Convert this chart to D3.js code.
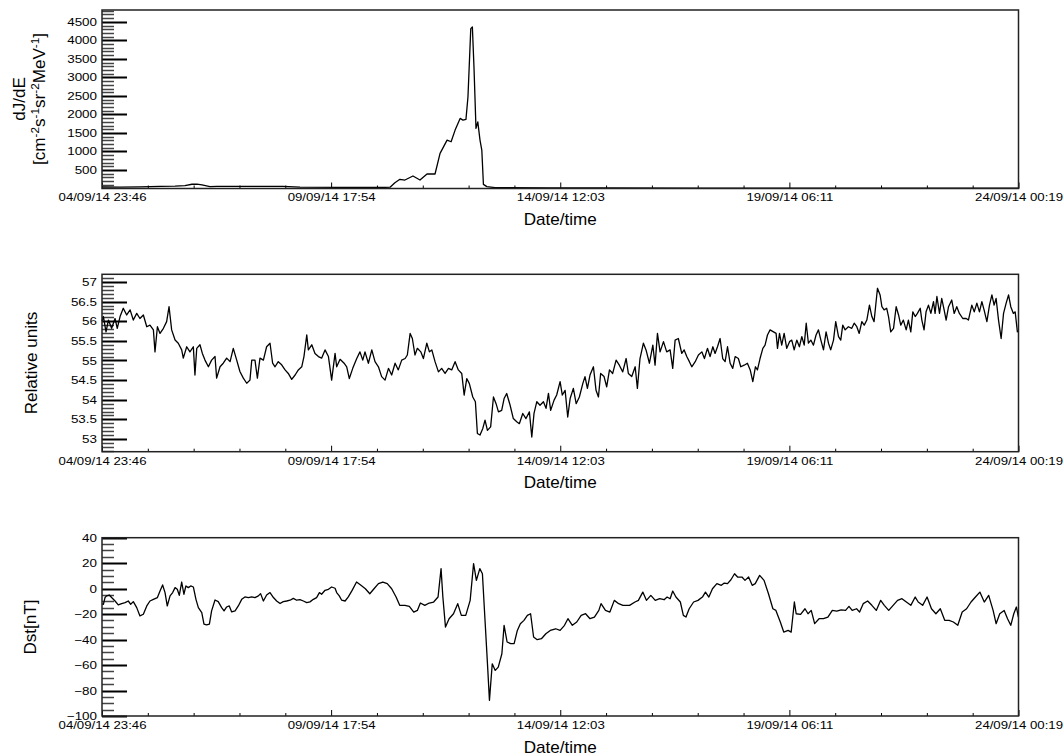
<!DOCTYPE html>
<html lang="en">
<head>
<meta charset="UTF-8">
<title>Proton flux, relative units and Dst, September 2014</title>
<script src="https://d3js.org/d3.v7.min.js"></script>
<style>
  body { margin: 0; background: #fff; }
  svg { display: block; }
  text { font-family: "Liberation Sans", Arial, Helvetica, sans-serif; fill: #000; }
  .tick line { stroke: #000; stroke-width: 1px; }
  .line { fill: none; stroke: #000; stroke-width: 1.3px; stroke-linejoin: round; }
  .frame { fill: none; stroke: #222; stroke-width: 1.5px; }
  .tick-label { font-size: 11px; }
  .title { font-size: 16px; }
</style>
</head>
<body>
<svg width="1064" height="756"></svg>
<script>
// time axis: hours since 04/09/14 23:46
const xEnd = 456.55;
const xMajorTicks = [0, 114.13, 228.28, 342.42, 456.55];
const xTickLabels = ["04/09/14 23:46", "09/09/14 17:54", "14/09/14 12:03", "19/09/14 06:11", "24/09/14 00:19"];

// dJ/dE flux
const fluxTimes = [0, 9, 18.9, 28.9, 36.4, 41.3, 44.8, 47.3, 49.8, 53.8, 57.3, 68.7, 90.2, 98.6, 118.6, 141.0,
  143.5, 145.9, 148.4, 150.9, 154.9, 158.4, 161.9, 165.9, 168.4, 171.9, 173.9, 175.9, 178.4, 179.8, 181.3,
  182.3, 183.7, 184.5, 185.3, 186.3, 187.2, 188.3, 189.2, 190.0, 191.7, 195.8, 223.2, 248.1, 297.9, 347.7,
  397.6, 456.4];
const fluxValues = [40, 35, 45, 60, 65, 80, 115, 120, 95, 50, 60, 60, 55, 35, 30, 30,
  35, 157, 248, 229, 337, 229, 391, 391, 948, 1307, 1262, 1577, 1892, 1847, 1865,
  2470, 4317, 4362, 3283, 1622, 1801, 1307, 1038, 112, 50, 25, 18, 15, 12, 10,
  10, 10];

// relative units
const nmTimes = [0, 0.7, 2.0, 3.2, 4.8, 6.5, 7.6, 9.0, 10.6, 12.3, 14.0, 15.6, 17.3, 18.9, 20.6, 22.3, 23.9,
  25.6, 26.4, 27.6, 28.9, 30.6, 32.2, 33.4, 34.7, 36.4, 38.0, 39.7, 40.5, 42.2, 43.8, 45.5, 46.3, 47.2,
  48.8, 50.0, 51.3, 53.0, 54.6, 56.3, 57.1, 58.8, 60.4, 62.1, 63.8, 65.4, 67.1, 68.7, 70.4, 72.1, 73.7,
  74.6, 76.2, 77.4, 78.7, 80.4, 82.0, 83.7, 85.0, 86.2, 87.8, 89.5, 91.2, 92.8, 94.5, 96.2, 97.8, 99.5,
  100.6, 102.0, 102.8, 104.5, 106.1, 107.8, 109.4, 111.1, 112.8, 114.4, 116.1,
  116.9, 118.6, 120.6, 121.9, 123.2, 124.9, 126.9, 128.5, 129.9, 131.0, 132.7, 134.4, 136.0, 137.7, 139.3,
  141.0, 142.7, 144.3, 146.0, 147.6, 149.3, 151.0, 152.1, 153.5, 154.6, 155.9, 157.1, 158.8, 160.1, 161.8,
  163.1, 164.3, 165.9, 167.6, 169.2, 170.9, 172.6, 174.2, 175.9, 177.5, 179.2, 180.4, 181.7, 183.0, 184.7,
  186.0, 187.0, 188.3, 189.7, 190.8, 192.0, 193.6, 195.0, 196.3, 197.5, 199.1, 200.3, 201.6, 203.3, 204.9,
  206.6, 207.9, 209.6, 211.2, 212.9, 214.1, 215.2, 216.6, 218.2, 219.9, 221.2, 222.4, 223.5, 225.2, 226.5,
  228.2, 229.3, 230.7, 232.0, 233.2, 234.8, 236.2, 237.8, 239.5, 240.6, 241.8, 243.1, 244.8, 246.1, 247.3,
  248.4, 250.1, 251.4, 252.8, 254.4, 256.1, 257.7, 259.4, 261.1, 262.2, 263.9, 265.6, 266.7, 268.0, 269.7,
  271.0, 272.7, 274.4, 275.5, 276.7, 278.0, 279.7, 281.3, 283.0, 284.3, 285.5, 287.1,
  288.8, 290.0, 291.3, 292.6, 293.8, 295.5, 297.1, 298.8, 300.1, 301.6, 302.9, 304.3, 305.4, 306.6, 307.9,
  309.2, 310.4, 311.6, 312.9, 314.2, 315.4, 317.0, 318.2, 319.9, 321.5, 322.9, 324.2, 325.5, 326.5, 327.8,
  329.2, 330.3, 331.5, 332.8, 334.5, 335.8, 336.5, 337.5, 338.6, 339.8, 341.1, 342.5, 343.6, 344.8, 346.1,
  347.4, 348.6, 349.8, 350.8, 351.9, 353.1, 354.4, 355.7, 356.9, 358.1, 359.4, 360.7, 361.9, 363.0, 364.4,
  365.5, 366.9, 368.0, 369.0, 370.2, 371.8, 373.5, 374.7, 376.0, 377.2, 378.5, 379.7, 381.0, 382.3, 383.5,
  384.6, 386.3, 387.6, 388.5, 389.6, 390.9, 391.8, 392.9, 394.3, 395.6, 396.8, 397.9, 399.2, 400.6, 401.7,
  402.9, 403.9, 405.1, 406.2, 407.6, 408.4, 409.5, 410.5, 411.7, 412.9, 414.2, 415.0, 415.9, 417.2, 418.3,
  419.5, 420.5, 421.7, 423.3, 424.5, 425.8, 427.1, 428.8, 430.5, 431.6, 433.3, 434.5, 435.8, 437.1, 438.3,
  439.4, 440.8, 442.1, 443.3, 444.4, 445.4, 446.6, 447.9, 449.1, 450.4, 451.6, 452.7, 454.0, 454.9, 456.0,
  456.5];
const nmValues = [56.0, 56.12, 55.73, 56.03, 55.82, 56.07, 55.82, 56.12, 56.33, 56.16, 56.29, 56.03, 56.20, 56.07, 56.16, 55.86, 55.90,
  55.78, 55.22, 55.86, 55.69, 55.82, 55.99, 56.37, 55.78, 55.52, 55.44, 55.27, 55.06, 55.35, 55.22, 55.35, 54.63, 55.31,
  55.40, 55.18, 55.01, 54.84, 55.01, 55.10, 54.55, 54.84, 54.93, 55.06, 54.97, 55.31, 55.01, 54.72, 54.55, 54.42, 54.50,
  55.01, 55.01, 54.55, 55.06, 55.01, 55.35, 55.44, 54.93, 54.84, 54.97, 54.89, 54.76, 54.67, 54.52, 54.63, 54.76, 54.84,
  55.10, 55.65, 55.27, 55.40, 55.18, 55.10, 55.06, 55.27, 55.10, 54.50, 55.18,
  54.84, 55.03, 54.93, 54.84, 54.54, 54.80, 55.05, 55.22, 55.01, 55.22, 54.93, 55.27, 54.97, 54.84, 54.59,
  54.50, 54.80, 54.63, 54.93, 54.76, 55.01, 55.05, 55.14, 55.69, 55.56, 55.14, 55.31, 55.22, 55.05, 55.44,
  55.22, 55.27, 54.97, 54.71, 54.80, 54.67, 54.80, 54.76, 54.97, 54.76, 54.67, 54.12, 54.54, 54.41, 54.07,
  53.95, 53.14, 53.10, 53.27, 53.48, 53.22, 53.31, 54.07, 53.90, 53.69, 53.73, 54.03, 54.16, 53.86, 53.52,
  53.44, 53.39, 53.65, 53.52, 53.69, 53.05, 53.65, 53.95, 53.86, 53.95, 53.78, 54.16, 53.73, 53.99, 54.12,
  54.46, 54.12, 54.24, 53.56, 54.03, 54.29, 53.90, 54.07, 54.41, 54.59, 54.29, 54.63, 54.84, 54.24, 54.07,
  54.67, 54.59, 54.33, 54.76, 54.67, 55.01, 54.88, 54.71, 55.05, 54.67, 54.59, 54.84, 54.29, 55.05, 55.44,
  55.27, 54.93, 55.39, 54.88, 55.69, 55.22, 55.48, 55.22, 55.27, 54.80, 55.52, 55.56,
  55.18, 55.27, 55.10, 54.97, 54.84, 54.97, 55.14, 55.22, 55.05, 55.31, 55.10, 55.35, 55.18, 55.35, 55.56,
  55.05, 54.97, 55.35, 54.93, 54.80, 55.10, 55.05, 54.84, 54.88, 54.93, 54.76, 54.46, 54.84, 54.76, 55.05,
  55.31, 55.39, 55.65, 55.78, 55.73, 55.69, 55.31, 55.69, 55.39, 55.69, 55.31, 55.48, 55.52, 55.27, 55.52,
  55.35, 55.61, 55.39, 55.95, 55.44, 55.52, 55.39, 55.65, 55.78, 55.52, 55.27, 55.73, 55.44, 55.27, 55.52,
  55.99, 55.61, 55.52, 55.90, 55.78, 55.86, 55.82, 55.95, 55.86, 55.69, 55.99, 55.90, 56.03, 56.41, 56.12,
  55.99, 56.84, 56.67, 56.37, 56.29, 56.33, 56.12, 55.73, 55.82, 56.37, 56.16, 55.90, 56.03, 55.78, 56.03,
  55.73, 56.24, 56.12, 56.20, 56.33, 56.03, 55.78, 56.24, 56.41, 56.20, 56.50, 56.20, 56.63, 56.20, 56.58,
  56.29, 56.03, 56.37, 56.54, 56.20, 56.37, 56.20, 56.07, 56.07, 56.03, 56.41, 56.24, 56.46, 56.24, 56.50,
  56.29, 55.99, 56.41, 56.67, 56.41, 56.58, 56.03, 55.56, 56.20, 56.46, 56.67, 56.37, 56.20, 56.24, 55.73,
  55.75];

// Dst index
const dstTimes = [0, 0.7, 1.5, 2.3, 3.6, 4.8, 6.5, 8.1, 9.8, 11.5, 13.1, 14.3, 15.6, 17.3, 18.9, 20.6, 22.3,
  23.9, 25.6, 27.6, 28.9, 30.2, 31.4, 32.5, 33.9, 35.2, 36.4, 37.5, 38.5, 39.7, 40.8, 41.8, 43.0, 44.2,
  45.5, 46.8, 48.0, 49.7, 50.8, 52.1, 53.5, 54.6, 56.3, 57.9, 59.6, 60.8, 62.1, 63.4, 64.6, 66.3, 67.9,
  69.6, 71.2, 72.9, 74.6, 76.2, 77.9, 79.0, 80.4, 82.0, 83.7, 85.4, 87.0, 88.7, 90.3, 92.0, 93.7, 95.3,
  97.0, 98.6, 100.3, 102.0, 103.6, 105.3, 106.9, 108.3, 109.4, 111.1, 112.8, 114.4, 116.1, 116.9, 118.2,
  119.4, 121.1, 122.7,
  124.6, 126.8, 129.0, 131.2, 133.4, 135.5, 137.7, 139.9, 142.1, 144.3, 146.5, 148.3, 150.9, 153.1, 155.3,
  157.1, 158.6, 160.8, 163.0, 165.2, 167.4, 168.9, 169.8, 171.1, 172.9, 175.1, 177.2, 179.0, 181.2, 183.4,
  185.1, 186.5, 188.2, 189.5, 190.9, 192.2, 193.0, 194.4, 195.9, 197.4, 199.2, 200.3, 201.8, 203.6, 205.3,
  206.9, 208.4, 210.2, 211.9, 213.5, 215.0, 216.8, 218.9, 221.1, 223.3, 226.0, 228.2, 230.4, 232.1, 234.3,
  236.5, 238.7, 240.9, 243.1, 245.3, 247.5, 248.6, 250.8, 253.0, 255.2, 257.4, 259.5, 262.8, 265.5, 267.2,
  269.4, 271.2, 273.4, 275.6, 277.8, 280.0, 281.5, 283.0, 284.3, 285.9, 288.1, 289.6, 290.9, 292.5, 294.7,
  296.9, 299.1, 300.6, 302.3, 304.1, 306.3, 308.5, 310.0, 311.6, 313.3, 315.1, 316.6, 318.8, 320.3, 322.1,
  323.9, 325.4, 327.6, 329.8, 332.0, 334.2, 335.7, 337.9, 339.6, 341.8, 343.3, 344.9, 345.8, 348.0, 350.2,
  351.7, 353.3, 355.0, 357.2, 359.4, 361.6, 363.8, 366.0, 368.2, 370.4, 372.1, 373.7, 375.9, 377.4, 379.2,
  381.4, 383.5, 385.7, 387.9, 389.7, 391.9, 394.1, 396.3, 398.5, 400.7, 402.9, 405.1, 406.6, 408.8, 411.0,
  413.2, 415.4, 417.6, 419.8, 422.0, 424.1, 426.3, 428.5, 430.7, 432.9, 435.1, 437.3, 439.5, 441.7, 443.9,
  445.4, 447.2, 449.4, 451.1, 452.7, 454.2, 455.5, 456.5];
const dstValues = [-12, -12.3, -7, -5.7, -5, -7, -9.7, -12.8, -11.7, -11, -9.7, -12.3, -10.2, -14.9, -21.4, -20.1, -13.6,
  -9.7, -8.4, -7, -1.8, 2.9, -3.1, -13.6, -5.7, -3.1, 0.8, -0.5, -5.2, 5.2, -4.4, 2.1, 0.8, 2.1,
  1.3, -8.4, -14.9, -18.8, -27.9, -28.5, -27.9, -17.5, -8.9, -10.2, -14.9, -17.5, -14.4, -13.6, -18.3, -17.5, -13.6,
  -8.4, -6.5, -7, -6.5, -7, -5.7, -3.9, -9.7, -5, -3.1, -7, -9.7, -11.7, -10.2, -9.7, -9.1, -7.6,
  -9.1, -8.6, -9.7, -11, -10.4, -8.4, -7, -3.1, -4.4, -1.3, -0.5, 1.3, 0.3, -3.1, -5.7,
  -9.1, -9.7, -6.5,
  -1.4, 5.2, 2.6, -0.1, -4, -0.1, 3.9, 5.2, 3.9, -0.1, -6.6, -13.1, -13.1, -13.9, -18.4,
  -17.1, -11.3, -13.1, -11.3, -10.5, -6.6, 15.7, -6.6, -30.2, -23.6, -19.7, -11.8, -21, -21, -9.2,
  19.6, 6.5, 15.7, 11.7, -27.5, -64.2, -87.7, -59, -64.2, -61.6, -51.1, -28.8, -41.9, -43.2, -43.2,
  -32.8, -27.5, -24.9, -21, -19.7, -38, -40.1, -39.3, -35.4, -32.8, -31.5, -32.8, -28.8, -23.6, -28.8,
  -26.2, -21, -19.7, -23.6, -22.3, -17.1, -11.8, -17.1, -18.4, -9.2, -11.8, -13.1, -13.1, -10.5, -9.2,
  -2.7, -9.2, -5.3, -9.2, -7.9, -8.7, -6.6, -7.9, -1.9, -6.6, -10.5, -21, -22.3, -15.8, -10.5,
  -9.2, -6.6, -2.7, -6.6, -0.1, 3.9, 2.6, 4.4, 3.9, 7, 11.7, 9.1, 9.1, 6.5, 9.1,
  2.6, 3.9, 10.4, 6.5, -4, -15.8, -17.1, -26.2, -34.1, -32.8, -34.1, -10.5, -19.7, -20.2, -15.8,
  -19.7, -17.1, -27.5, -23.6, -23.6, -22.3, -17.1, -17.6, -16.6, -17.1, -13.9, -17.1, -15.8, -18.4, -11.8,
  -9.7, -13.1, -17.1, -9.2, -13.1, -17.1, -13.1, -9.2, -7.9, -10.5, -13.1, -6.6, -10.5, -13.1, -6.6,
  -15.8, -19.7, -15.8, -24.9, -24.9, -26.2, -28.8, -18.4, -15.8, -10.5, -6.6, -2.7, -10.5, -5.3, -17.1,
  -27.5, -19.7, -17.1, -23.6, -28.8, -19.7, -14.4, -22.3];

// y tick values
const fluxMajorTicks = [500, 1000, 1500, 2000, 2500, 3000, 3500, 4000, 4500];
const nmMajorTicks = [53, 53.5, 54, 54.5, 55, 55.5, 56, 56.5, 57];
const dstMajorTicks = [-100, -80, -60, -40, -20, 0, 20, 40];

const fluxMinorTicks = d3.range(100, 4801, 100).filter(v => v % 500 !== 0);
const nmMinorTicks = d3.range(527, 572).filter(v => v % 5 !== 0).map(v => v / 10);
const dstMinorTicks = d3.range(-95, 40, 5).filter(v => v % 20 !== 0);
const xMinorTicks = d3.range(1, 20).filter(k => k % 5 !== 0).map(k => k * xEnd / 20);

const panels = [
  { times: fluxTimes, values: fluxValues, top: 10, bottom: 188.5, domain: [0, 4820],
    major: fluxMajorTicks, minor: fluxMinorTicks },
  { times: nmTimes, values: nmValues, top: 274.3, bottom: 451.7, domain: [52.676, 57.196],
    major: nmMajorTicks, minor: nmMinorTicks },
  { times: dstTimes, values: dstValues, top: 537.7, bottom: 716, domain: [-100, 40],
    major: dstMajorTicks, minor: dstMinorTicks }
];

const svg = d3.select("svg");
const x = d3.scaleLinear().domain([0, xEnd]).range([102, 1018.5]);
const fmt = d3.format("");

panels.forEach((p, i) => {
  const y = d3.scaleLinear().domain(p.domain).range([p.bottom, p.top]);
  const g = svg.append("g");

  // x axis, ticks pointing up into the frame
  g.append("g")
      .attr("transform", "translate(0," + p.bottom + ")")
      .call(d3.axisBottom(x).tickValues(xMinorTicks).tickSize(-3).tickSizeOuter(0).tickFormat(""))
      .call(a => a.select(".domain").remove());
  g.append("g")
      .attr("transform", "translate(0," + p.bottom + ")")
      .call(d3.axisBottom(x).tickValues(xMajorTicks).tickSize(-6).tickSizeOuter(0).tickPadding(5)
          .tickFormat((d, k) => xTickLabels[k]))
      .call(a => a.select(".domain").remove())
      .call(a => a.selectAll("text").attr("class", "tick-label").attr("transform", "scale(1.2,1)"));

  // y axis labels
  g.append("g")
      .attr("transform", "translate(" + x(0) + ",0)")
      .call(d3.axisLeft(y).tickValues(p.major).tickSize(0).tickSizeOuter(0).tickPadding(0).tickFormat(fmt))
      .call(a => a.select(".domain").remove())
      .call(a => a.selectAll("text").attr("class", "tick-label").attr("x", 0)
          .attr("transform", "translate(-5,0) scale(1.22,1)"));

  // y ticks as one path each for minor and major, pointing right into the frame
  const tickPath = (vals, len) => vals.map(v => "M" + x(0) + "," + (Math.round(y(v)) + 0.5) + "h" + len).join("");
  g.append("path")
      .attr("d", tickPath(p.minor, 12))
      .attr("fill", "none")
      .attr("stroke", "#444")
      .attr("stroke-width", 1.5);
  g.append("path")
      .attr("d", tickPath(p.major, 25))
      .attr("fill", "none")
      .attr("stroke", "#000")
      .attr("stroke-width", 2);

  // data
  const pts = p.times.map((t, k) => [t, p.values[k]]);
  g.append("path")
      .datum(pts)
      .attr("class", "line")
      .attr("d", d3.line().x(d => x(d[0])).y(d => y(d[1])));

  // frame
  g.append("rect")
      .attr("class", "frame")
      .attr("x", x(0))
      .attr("y", y(p.domain[1]))
      .attr("width", x(xEnd) - x(0))
      .attr("height", y(p.domain[0]) - y(p.domain[1]));

  // x title
  g.append("text")
      .attr("class", "title")
      .attr("text-anchor", "middle")
      .attr("transform", "translate(" + ((x(0) + x(xEnd)) / 2) + "," + (p.bottom + 36.5) + ") scale(1.07,1)")
      .text("Date/time");
});

// y titles
function yTitle(bx, cy, parts) {
  const t = svg.append("text")
      .attr("class", "title")
      .attr("text-anchor", "middle")
      .attr("transform", "translate(" + bx + "," + cy + ") rotate(-90) scale(1.07,1)");
  let up = false;
  parts.forEach(s => {
    const sup = s.startsWith("^");
    const ts = t.append("tspan").text(sup ? s.slice(1) : s);
    if (sup && !up) { ts.attr("dy", -6).style("font-size", "11px"); up = true; }
    else if (sup) { ts.style("font-size", "11px"); }
    else if (up) { ts.attr("dy", 6); up = false; }
  });
  return t;
}

yTitle(25, 99, ["dJ/dE"]);
yTitle(45, 99, ["[cm", "^-2", "s", "^-1", "sr", "^-2", "MeV", "^-1", "]"]);
yTitle(37, 363, ["Relative units"]);
yTitle(36, 627, ["Dst[nT]"]);
</script>
</body>
</html>
